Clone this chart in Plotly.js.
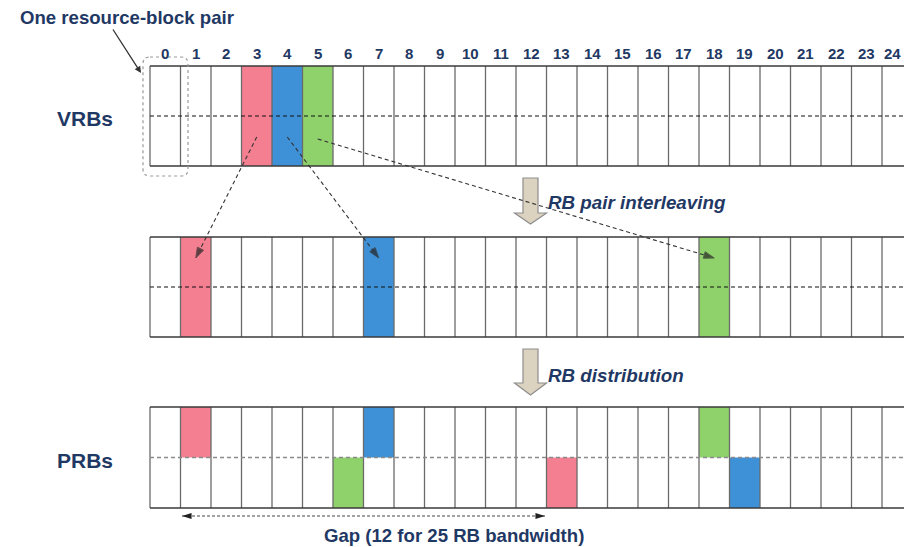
<!DOCTYPE html>
<html><head><meta charset="utf-8">
<script src="https://cdn.plot.ly/plotly-3.0.1.min.js"></script>
<style>html,body{margin:0;padding:0;background:#fff}#chart{width:904px;height:547px}</style>
</head><body><div id="chart"></div>
<script>
// ---- data ----
const rbLabels = ['0','1','2','3','4','5','6','7','8','9','10','11','12','13','14','15','16','17','18','19','20','21','22','23','24'];
const vrbCells = [3, 4, 5];             // allocated virtual RB pairs
const interleavedCells = [1, 7, 18];    // after RB pair interleaving
const prbFirstSlot = [1, 7, 18];        // PRB, first slot (top half)
const prbSecondSlot = [13, 19, 6];      // PRB, second slot (bottom half)
const pairColors = ['#f47f91', '#3f91d7', '#8fd26b'];
const gapStart = 1, gapEnd = 13;        // gap of 12 RBs
const rowNames = ['VRBs', '', 'PRBs'];

// ---- geometry (layout only) ----
const W = 904, H = 547, X0 = 150, CELL = 30.5;
const fx = p => (p - X0) / CELL;
const rows = [[66, 166], [237, 337], [407, 508]];
const navy = '#1f3864';
const FONT = 'Liberation Sans, Arial, sans-serif';
const nB = rbLabels.length + 1;

const shapes = [];
function fillCell(i, y0, y1, color) {
  shapes.push({type:'rect', xref:'x', yref:'y', x0:i, x1:i+1, y0:y0, y1:y1,
    fillcolor:color, line:{width:0}, layer:'below'});
}
vrbCells.forEach((c, k) => fillCell(c, rows[0][0], rows[0][1], pairColors[k]));
interleavedCells.forEach((c, k) => fillCell(c, rows[1][0], rows[1][1], pairColors[k]));
const prbMid = (rows[2][0] + rows[2][1]) / 2;
prbFirstSlot.forEach((c, k) => fillCell(c, rows[2][0], prbMid, pairColors[k]));
prbSecondSlot.forEach((c, k) => fillCell(c, prbMid, rows[2][1], pairColors[k]));

rows.forEach((r, ri) => {
  for (let b = 0; b < nB; b++) {
    shapes.push({type:'line', xref:'x', yref:'y', x0:b, x1:b, y0:r[0], y1:r[1],
      line:{color:'#6a6a6a', width:1.3}, layer:'below'});
  }
  [r[0], r[1]].forEach(y => shapes.push({type:'line', xref:'x', yref:'y', x0:0, x1:nB-1, y0:y, y1:y,
    line:{color:'#3a3a3a', width:1.5}, layer:'below'}));
  const m = (r[0] + r[1]) / 2;
  shapes.push({type:'line', xref:'x', yref:'y', x0:0, x1:nB-1, y0:m, y1:m,
    line:{color: ri === 2 ? '#8a8a8a' : '#111', width: ri === 2 ? 1.6 : 1.1, dash:'4px,3px'}, layer:'below'});
});

(function(){
  const x0 = fx(143), x1 = fx(188), y0 = 57, y1 = 176, rx = 7/CELL, ry = 7;
  shapes.push({type:'path', xref:'x', yref:'y', layer:'below',
    path:`M${x0+rx},${y0} L${x1-rx},${y0} Q${x1},${y0} ${x1},${y0+ry} L${x1},${y1-ry} Q${x1},${y1} ${x1-rx},${y1} L${x0+rx},${y1} Q${x0},${y1} ${x0},${y1-ry} L${x0},${y0+ry} Q${x0},${y0} ${x0+rx},${y0} Z`,
    line:{color:'#9a9a9a', width:1.2, dash:'dot'}});
})();

function blockArrow(cx, top, base, tip) {
  const s = 7.5, h = 16;
  const p = `M${fx(cx-s)},${top} L${fx(cx+s)},${top} L${fx(cx+s)},${base} L${fx(cx+h)},${base} L${fx(cx)},${tip} L${fx(cx-h)},${base} L${fx(cx-s)},${base} Z`;
  shapes.push({type:'path', xref:'x', yref:'y', path:p, fillcolor:'#dbd2bf',
    line:{color:'#8e8e8e', width:1.2}, layer:'below'});
}
blockArrow(530.5, 178, 213, 224);
blockArrow(530.5, 349, 383, 395);

// ---- traces: dashed mapping arrows ----
const traces = [];
vrbCells.forEach((c, k) => {
  traces.push({type:'scatter', mode:'lines+markers', hoverinfo:'skip', showlegend:false,
    x:[c + 0.5, interleavedCells[k] + 0.5], y:[k === 2 ? 139 : 137, 258],
    line:{color:'#333', width:1.1, dash:'4px,3px'},
    marker:{symbol:'arrow', size:[0, 11], color:'#222', angleref:'previous'}});
});
traces.push({type:'scatter', mode:'lines+markers', hoverinfo:'skip', showlegend:false,
  x:[gapStart + 0.05, gapEnd - 0.05], y:[516, 516],
  line:{color:'#444', width:1.1, dash:'3px,2px'},
  marker:{symbol:'arrow', size:10, color:'#222', angle:[270, 90]}});

// ---- annotations ----
const ann = [];
rbLabels.forEach((t, i) => {
  const last = i === rbLabels.length - 1;
  ann.push({x: last ? fx(903) : i + 0.5, xanchor: last ? 'right' : 'center', y:53, xref:'x', yref:'y',
    text:'<b>' + t + '</b>', showarrow:false, font:{family:FONT, size:15, color:navy}});
});
ann.push({x:fx(85), y:118, xref:'x', yref:'y', text:'<b>' + rowNames[0] + '</b>', showarrow:false,
  font:{family:FONT, size:21, color:navy}});
ann.push({x:fx(85), y:460, xref:'x', yref:'y', text:'<b>' + rowNames[2] + '</b>', showarrow:false,
  font:{family:FONT, size:21, color:navy}});
ann.push({x:fx(18), y:17, xref:'x', yref:'y', xanchor:'left', text:'<b>One resource-block pair</b>', showarrow:false,
  font:{family:FONT, size:18.6, color:navy}});
ann.push({x:fx(141), y:73, xref:'x', yref:'y', ax:fx(112), ay:28, axref:'x', ayref:'y', text:'', showarrow:true,
  arrowhead:2, arrowsize:1, arrowwidth:1.3, arrowcolor:'#333'});
ann.push({x:fx(546), y:202, xref:'x', yref:'y', xanchor:'left', text:'<b><i>RB pair interleaving</i></b>', showarrow:false,
  font:{family:FONT, size:18.8, color:navy}});
ann.push({x:fx(546), y:375, xref:'x', yref:'y', xanchor:'left', text:'<b><i>RB distribution</i></b>', showarrow:false,
  font:{family:FONT, size:18.8, color:navy}});
ann.push({x:fx(454), y:535, xref:'x', yref:'y', text:'<b>Gap (12 for 25 RB bandwidth)</b>', showarrow:false,
  font:{family:FONT, size:18.6, color:navy}});

const layout = {
  width:W, height:H, margin:{l:0, r:0, t:0, b:0},
  paper_bgcolor:'#fff', plot_bgcolor:'#fff', showlegend:false,
  xaxis:{range:[fx(0), fx(W)], visible:false, fixedrange:true},
  yaxis:{range:[H, 0], visible:false, fixedrange:true},
  shapes:shapes, annotations:ann
};
Plotly.newPlot('chart', traces, layout, {staticPlot:true, displayModeBar:false});
</script>
</body></html>
